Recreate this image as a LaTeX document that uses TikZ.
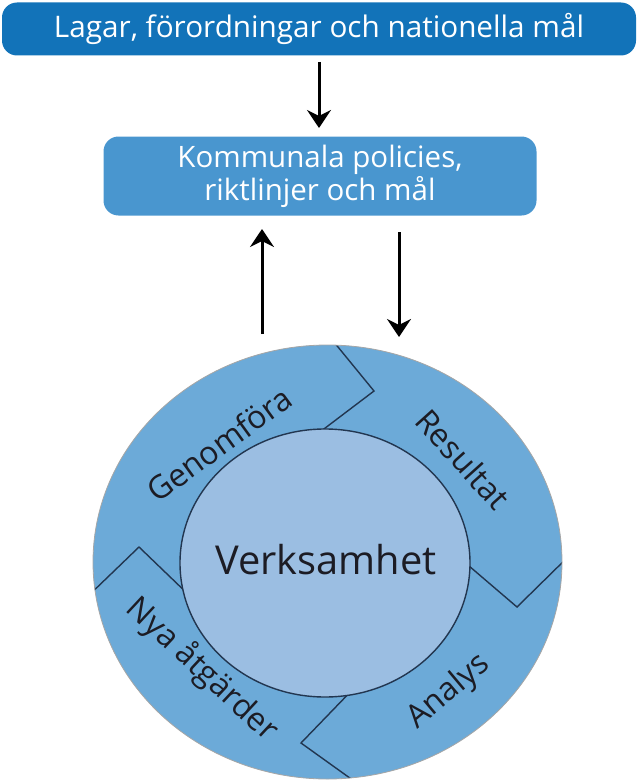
\documentclass[tikz,border=0pt]{standalone}
\usepackage{fontspec}
\setmainfont{Open Sans}
\usetikzlibrary{arrows.meta,shapes.geometric}
\definecolor{topblue}{RGB}{18,115,185}
\definecolor{midblue}{RGB}{73,150,207}
\definecolor{ringblue}{RGB}{108,170,216}
\definecolor{coreblue}{RGB}{155,190,226}
\definecolor{navy}{RGB}{34,54,80}
\definecolor{txtdark}{RGB}{28,28,36}
\tikzset{
  box/.style={rounded corners=15pt, draw=none, text=white, align=center},
  arr/.style={line width=3pt, -{Stealth[length=18pt,width=24pt,inset=6pt]}, black},
  chev/.style={line width=1.4pt, draw=navy, line join=miter},
  ringtxt/.style={text=txtdark, font=\fontsize{32}{36}\selectfont, inner sep=0pt},
}
\begin{document}
\begin{tikzpicture}[x=1pt,y=-1pt]
\useasboundingbox (0,0) rectangle (638,784);
% boxes
\node[box, fill=topblue, minimum width=634pt, minimum height=53pt,
      font=\fontsize{29.7}{34}\selectfont] (top) at (319,29) {Lagar, förordningar och nationella mål};
\node[box, fill=midblue, minimum width=433pt, minimum height=79pt,
      font=\fontsize{29.5}{33}\selectfont] (mid) at (320,176) {Kommunala policies,\\riktlinjer och mål};
% ring
\coordinate (c) at (327.5,562);
\fill[ringblue] (c) ellipse [x radius=234.5pt, y radius=217pt];
\begin{scope}
  \clip (c) ellipse [x radius=234.5pt, y radius=217pt];
  \draw[chev] (329,336) -- (374,391) -- (312,438);
  \draw[chev] (455,554) -- (517,607) -- (572,553);
  \draw[chev] (357,685) -- (301,743) -- (361,786);
  \draw[chev] (84,600) -- (139,547) -- (192,598);
\end{scope}
\draw[gray!70, line width=0.8pt] (c) ellipse [x radius=234.5pt, y radius=217pt];
\filldraw[fill=coreblue, draw=navy, line width=1.4pt] (325,563) ellipse [x radius=145pt, y radius=134pt];
\node[text=txtdark, font=\fontsize{39.8}{44}\selectfont] (core) at (326,560) {Verksamhet};
% ring labels
\node[ringtxt, rotate=36] (genom) at (219,444) {Genomföra};
\node[ringtxt, rotate=-48] (res) at (463,459) {Resultat};
\node[ringtxt, rotate=40] (ana) at (449,692) {Analys};
\node[ringtxt, rotate=-43] (nya) at (202,670) {Nya åtgärder};
% arrows
\coordinate (a1s) at (319,62);
\coordinate (a1e) at (319,128);
\coordinate (upS) at (262,334);
\coordinate (upE) at (262,229);
\coordinate (dnS) at (399,232);
\coordinate (dnE) at (399,337);
\draw[arr] (a1s) -- (a1e);
\draw[arr] (upS) -- (upE);
\draw[arr] (dnS) -- (dnE);
\end{tikzpicture}
\end{document}
